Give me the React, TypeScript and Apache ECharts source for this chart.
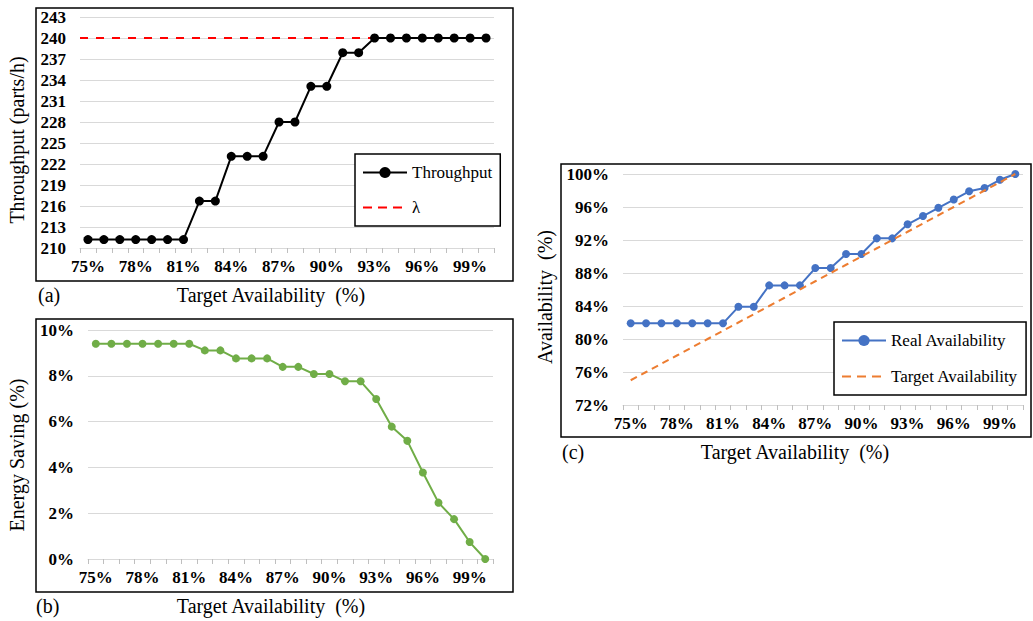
import React, { useEffect, useRef } from "react";
import * as echarts from "echarts";

const categories = [
  "75%", "76%", "77%", "78%", "79%", "80%", "81%", "82%", "83%", "84%", "85%", "86%", "87%",
  "88%", "89%", "90%", "91%", "92%", "93%", "94%", "95%", "96%", "97%", "98%", "99%", "100%",
];
const throughput = [
  211.2, 211.2, 211.2, 211.2, 211.2, 211.2, 211.2, 216.7, 216.7, 223.1, 223.1, 223.1, 228.0,
  228.0, 233.1, 233.1, 237.9, 237.9, 240, 240, 240, 240, 240, 240, 240, 240,
];
const lambdaValue = 240;
const energySaving = [
  9.4, 9.4, 9.4, 9.4, 9.4, 9.4, 9.4, 9.11, 9.11, 8.76, 8.76, 8.76, 8.39,
  8.39, 8.08, 8.08, 7.76, 7.76, 6.99, 5.78, 5.16, 3.78, 2.46, 1.74, 0.74, 0,
];
const realAvailability = [
  81.9, 81.9, 81.9, 81.9, 81.9, 81.9, 81.9, 83.9, 83.9, 86.5, 86.5, 86.5, 88.6,
  88.6, 90.3, 90.3, 92.2, 92.2, 93.9, 94.9, 95.9, 96.9, 97.9, 98.3, 99.3, 100,
];
const targetAvailability = [
  75, 76, 77, 78, 79, 80, 81, 82, 83, 84, 85, 86, 87,
  88, 89, 90, 91, 92, 93, 94, 95, 96, 97, 98, 99, 100,
];

const SERIF = "'Liberation Serif', 'Times New Roman', serif";
const GRID_GRAY = "#d9d9d9";

function xAxisDef(gridIndex: number) {
  return {
    type: "category",
    gridIndex,
    data: categories,
    boundaryGap: true,
    axisLine: { show: true, lineStyle: { color: GRID_GRAY, width: 1 } },
    axisTick: { show: true, interval: 0, length: 5, lineStyle: { color: "#bfbfbf" } },
    axisLabel: {
      interval: 2,
      fontFamily: SERIF,
      fontWeight: "bold",
      fontSize: 17,
      color: "#000",
      margin: 10,
    },
    splitLine: { show: false },
  };
}

function yAxisDef(gridIndex: number, min: number, max: number, interval: number, pct: boolean) {
  return {
    type: "value",
    gridIndex,
    min,
    max,
    interval,
    axisLine: { show: false },
    axisTick: { show: false },
    axisLabel: {
      formatter: pct ? "{value}%" : "{value}",
      fontFamily: SERIF,
      fontWeight: "bold",
      fontSize: 17,
      color: "#000",
      margin: 14,
    },
    splitLine: { show: true, lineStyle: { color: GRID_GRAY, width: 1 } },
  };
}

function txt(x: number, y: number, text: string, opts: any = {}) {
  return {
    type: "text",
    x,
    y,
    rotation: opts.rotation || 0,
    style: {
      text,
      fontFamily: SERIF,
      fontSize: opts.fontSize || 20,
      fill: "#000",
      align: opts.align || "center",
      verticalAlign: "middle",
    },
  };
}

function box(x: number, y: number, w: number, h: number) {
  return {
    type: "rect",
    shape: { x, y, width: w, height: h },
    style: { fill: "none", stroke: "#000", lineWidth: 1.5 },
    z: 10,
  };
}

export default function App() {
  const ref = useRef<HTMLDivElement>(null);
  useEffect(() => {
    if (!ref.current) return;
    const chart = echarts.init(ref.current, null, { renderer: "svg" });
    const legendText = { fontFamily: SERIF, fontSize: 17, color: "#000" };
    const option: any = {
      animation: false,
      backgroundColor: "#fff",
      grid: [
        { left: 80, top: 17, width: 414, height: 231 },
        { left: 88, top: 330, width: 405, height: 229 },
        { left: 623, top: 174, width: 400, height: 231 },
      ],
      xAxis: [xAxisDef(0), xAxisDef(1), xAxisDef(2)],
      yAxis: [
        yAxisDef(0, 210, 243, 3, false),
        yAxisDef(1, 0, 10, 2, true),
        yAxisDef(2, 72, 100, 4, true),
      ],
      legend: [
        {
          data: [
            "Throughput",
            { name: "λ", itemStyle: { opacity: 0 }, lineStyle: { type: [9, 6], width: 2 } },
          ],
          orient: "vertical",
          left: 355,
          top: 154,
          padding: [10, 8, 10, 7],
          itemGap: 18,
          itemWidth: 44,
          itemHeight: 14,
          borderColor: "#000",
          borderWidth: 1.5,
          backgroundColor: "#fff",
          textStyle: legendText,
        },
        {
          data: [
            "Real Availability",
            { name: "Target Availability", itemStyle: { opacity: 0 }, lineStyle: { type: [9, 6], width: 2 } },
          ],
          orient: "vertical",
          left: 834,
          top: 322,
          padding: [10, 8, 10, 7],
          itemGap: 19,
          itemWidth: 44,
          itemHeight: 14,
          borderColor: "#000",
          borderWidth: 1.5,
          backgroundColor: "#fff",
          textStyle: legendText,
        },
      ],
      series: [
        {
          name: "Throughput",
          type: "line",
          xAxisIndex: 0,
          yAxisIndex: 0,
          data: throughput,
          symbol: "circle",
          symbolSize: 9,
          itemStyle: { color: "#000" },
          lineStyle: { color: "#000", width: 2 },
          z: 3,
        },
        {
          name: "λ",
          type: "line",
          xAxisIndex: 0,
          yAxisIndex: 0,
          data: [],
          symbol: "none",
          itemStyle: { color: "#ff0000" },
          lineStyle: { color: "#ff0000", width: 2, type: [8, 8] },
          markLine: {
            silent: true,
            symbol: "none",
            label: { show: false },
            lineStyle: { color: "#ff0000", width: 2, type: [8, 8] },
            data: [{ yAxis: lambdaValue }],
            z: 2,
          },
        },
        {
          name: "Energy Saving",
          type: "line",
          xAxisIndex: 1,
          yAxisIndex: 1,
          data: energySaving,
          symbol: "circle",
          symbolSize: 8,
          itemStyle: { color: "#70AD47" },
          lineStyle: { color: "#70AD47", width: 2 },
        },
        {
          name: "Real Availability",
          type: "line",
          xAxisIndex: 2,
          yAxisIndex: 2,
          data: realAvailability,
          symbol: "circle",
          symbolSize: 8,
          itemStyle: { color: "#4472C4" },
          lineStyle: { color: "#4472C4", width: 2 },
          z: 3,
        },
        {
          name: "Target Availability",
          type: "line",
          xAxisIndex: 2,
          yAxisIndex: 2,
          data: targetAvailability,
          symbol: "none",
          itemStyle: { color: "#ED7D31" },
          lineStyle: { color: "#ED7D31", width: 2, type: [7, 5] },
          z: 4,
        },
      ],
      graphic: [
        box(36, 8, 477, 273),
        box(36, 319, 477, 273),
        box(561, 164, 470, 273),
        txt(17, 140, "Throughput (parts/h)", { rotation: Math.PI / 2 }),
        txt(271, 295, "Target Availability  (%)"),
        txt(38, 295, "(a)", { align: "left" }),
        txt(17, 455, "Energy Saving (%)", { rotation: Math.PI / 2 }),
        txt(271, 606, "Target Availability  (%)"),
        txt(36, 606, "(b)", { align: "left" }),
        txt(545, 297, "Availability  (%)", { rotation: Math.PI / 2 }),
        txt(795, 452, "Target Availability  (%)"),
        txt(562, 452, "(c)", { align: "left" }),
      ],
    };
    chart.setOption(option);
    return () => chart.dispose();
  }, []);
  return (
    <div
      ref={ref}
      style={{ position: "fixed", left: 0, top: 0, width: 1033, height: 621, background: "#fff" }}
    />
  );
}
